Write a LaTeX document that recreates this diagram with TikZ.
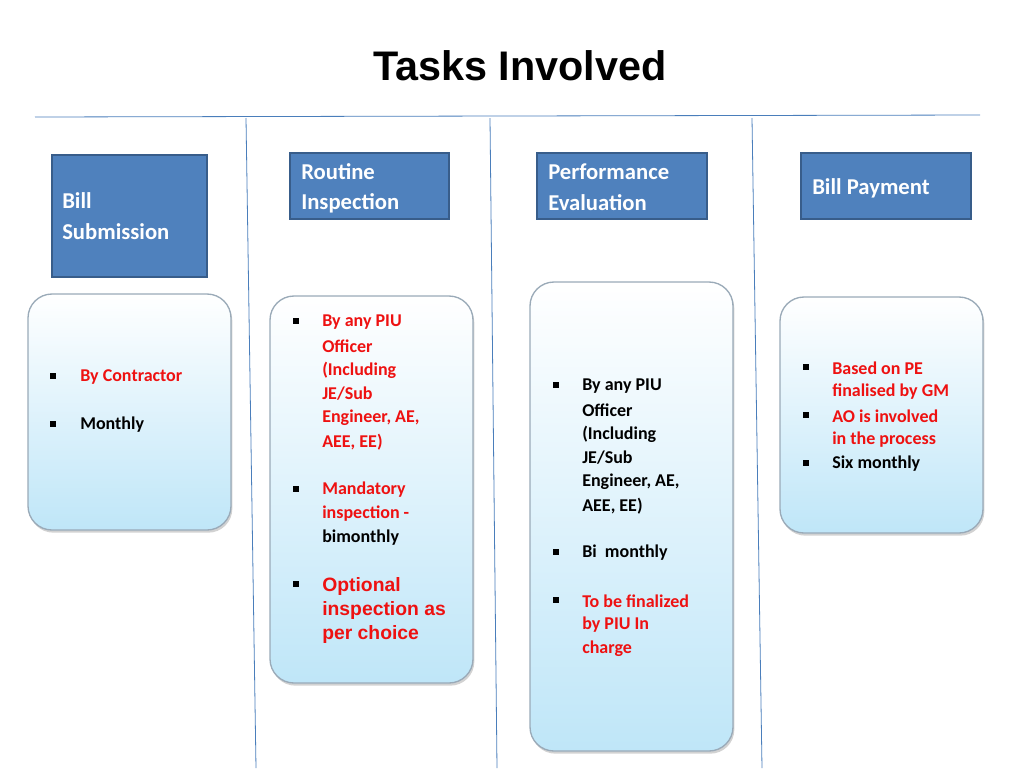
\documentclass[tikz,border=0pt]{standalone}
\usepackage{fontspec}
\setmainfont{Carlito}
\newfontfamily\arialf{Liberation Sans}
\usetikzlibrary{shadows}
\definecolor{hdr}{HTML}{4F81BD}
\definecolor{hdrb}{HTML}{385D8A}
\definecolor{lineb}{HTML}{4A7EBB}
\definecolor{boxb}{HTML}{9AAAB8}
\definecolor{boxf}{HTML}{BFE6F8}
\definecolor{redt}{HTML}{EE1111}
\tikzset{
 hbox/.style={draw=hdrb,line width=1.5pt,fill=hdr},
 rbox/.style={draw=boxb,line width=1pt,rounded corners=18pt,top color=white,bottom color=boxf,drop shadow={shadow xshift=1pt,shadow yshift=-2pt,fill=gray!70}},
 ht/.style={anchor=west,text=white,font=\fontsize{17}{20}\selectfont\bfseries,inner sep=0pt},
 bt/.style={anchor=west,font=\fontsize{13.5}{16}\selectfont\bfseries,inner sep=0pt},
 rt/.style={bt,text=redt},
 arialt/.style={anchor=west,font=\arialf\fontsize{14.5}{17}\selectfont\bfseries,text=redt,inner sep=0pt},
 bul/.style={fill=black,minimum size=4.5pt,inner sep=0pt},
 sep/.style={draw=lineb,line width=0.6pt}
}
\begin{document}
\begin{tikzpicture}[x=0.75pt,y=-0.75pt]
\useasboundingbox (0,0) rectangle (1024,768);
\node[font=\arialf\fontsize{31}{36}\selectfont\bfseries] (title) at (520,66) {Tasks Involved};
\coordinate (h1) at (35,117); \coordinate (h2) at (980,115);
\draw[sep] (h1)--(h2);
\coordinate (v1a) at (246,118); \coordinate (v1b) at (256,768);
\coordinate (v2a) at (490,118); \coordinate (v2b) at (497,768);
\coordinate (v3a) at (752,118); \coordinate (v3b) at (762,768);
\draw[sep] (v1a)--(v1b); \draw[sep] (v2a)--(v2b); \draw[sep] (v3a)--(v3b);
% headers
\draw[hbox] (52,155) rectangle (207,277);
\node[ht] (a1) at (62,201) {Bill}; \node[ht] (a2) at (62,232) {Submission};
\draw[hbox] (290,153) rectangle (449,219);
\node[ht] (b1) at (301,172) {Routine}; \node[ht] (b2) at (301,203) {Inspection};
\draw[hbox] (537,153) rectangle (707,219);
\node[ht] (c1) at (548,172) {Performance}; \node[ht] (c2) at (548,203) {Evaluation};
\draw[hbox] (801,153) rectangle (971,219);
\node[ht] (d1) at (812,188) {Bill Payment};
% boxes
\path[rbox] (28,294) rectangle (231,530);
\path[rbox] (270,296) rectangle (473,683);
\path[rbox] (530,282) rectangle (733,751);
\path[rbox] (780,297) rectangle (983,533);
% box1
\node[bul] (p1) at (53,376) {}; \node[rt] (t1) at (80,377) {By Contractor};
\node[bul] (p2) at (53,424) {}; \node[bt] (t2) at (80,425) {Monthly};
% box2
\node[bul] (q1) at (296,321) {};
\node[rt] (r1) at (322,322) {By any PIU};
\node[rt] (r2) at (322,346) {Officer};
\node[rt] (r3) at (322,370) {(Including};
\node[rt] (r4) at (322,394) {JE/Sub};
\node[rt] (r5) at (322,418) {Engineer, AE,};
\node[rt] (r6) at (322,442) {AEE, EE)};
\node[bul] (q2) at (296,489) {};
\node[rt] (s1) at (322,490) {Mandatory};
\node[rt] (s2) at (322,514) {inspection -};
\node[bt] (s3) at (322,538) {bimonthly};
\node[bul] (q3) at (296,584) {};
\node[arialt] (o1) at (322,586) {Optional};
\node[arialt] (o2) at (322,610) {inspection as};
\node[arialt] (o3) at (322,634) {per choice};
% box3
\node[bul] (u1) at (556,385) {};
\node[bt] (w1) at (582,386) {By any PIU};
\node[bt] (w2) at (582,410) {Officer};
\node[bt] (w3) at (582,434) {(Including};
\node[bt] (w4) at (582,458) {JE/Sub};
\node[bt] (w5) at (582,482) {Engineer, AE,};
\node[bt] (w6) at (582,506) {AEE, EE)};
\node[bul] (u2) at (556,552) {}; \node[bt] (x1) at (582,553) {Bi\ \ monthly};
\node[bul] (u3) at (556,600) {};
\node[rt] (y1) at (582,601) {To be finalized};
\node[rt] (y2) at (582,625) {by PIU In};
\node[rt] (y3) at (582,649) {charge};
% box4
\node[bul] (z1) at (806,367) {};
\node[rt] (k1) at (832,368) {Based on PE};
\node[rt] (k2) at (832,392) {finalised by GM};
\node[bul] (z2) at (806,415) {};
\node[rt] (k3) at (832,416) {AO is involved};
\node[rt] (k4) at (832,440) {in the process};
\node[bul] (z3) at (806,463) {};
\node[bt] (k5) at (832,464) {Six monthly};
\end{tikzpicture}
\end{document}
